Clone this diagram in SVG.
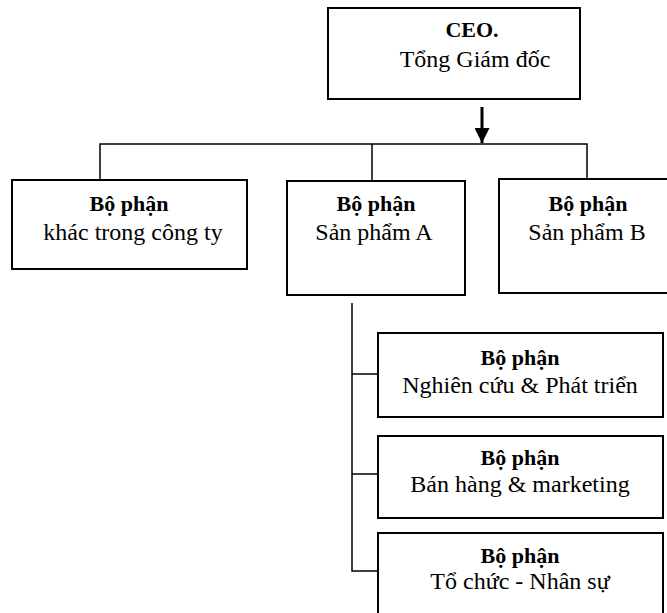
<svg xmlns="http://www.w3.org/2000/svg" width="667" height="613" viewBox="0 0 667 613">
<defs>
<style>
.box{fill:#fff;stroke:#000;stroke-width:2}
.ln{fill:none;stroke:#000;stroke-width:1.5}
.b{font-family:"Liberation Serif","Times New Roman",serif;font-weight:bold;font-size:22px;text-anchor:middle;fill:#000}
.r{font-family:"Liberation Serif","Times New Roman",serif;font-size:24px;text-anchor:middle;fill:#000}
</style>
<marker id="ah" viewBox="0 0 10 10" refX="10" refY="5" markerWidth="5" markerHeight="5" orient="auto" markerUnits="strokeWidth">
<path d="M0,0 L10,5 L0,10 z" fill="#000"/>
</marker>
</defs>
<rect width="667" height="613" fill="#fff"/>
<g id="connectors">
<line class="ln" x1="482" y1="107" x2="482" y2="143" style="stroke-width:3" marker-end="url(#ah)"/>
<polyline class="ln" points="100,180 100,144 587,144 587,179"/>
<line class="ln" x1="372" y1="144" x2="372" y2="181"/>
<polyline class="ln" points="352,303 352,571 379,571"/>
<line class="ln" x1="352" y1="374" x2="379" y2="374"/>
<line class="ln" x1="352" y1="474" x2="379" y2="474"/>
</g>
<g id="ceo">
<rect class="box" x="328" y="8" width="252" height="91"/>
<text class="b" x="472" y="37">CEO.</text>
<text class="r" x="475" y="67">Tổng Giám đốc</text>
</g>
<g id="khac">
<rect class="box" x="12" y="180" width="235" height="89"/>
<text class="b" x="129" y="211">Bộ phận</text>
<text class="r" x="133" y="240">khác trong công ty</text>
</g>
<g id="spA">
<rect class="box" x="287" y="181" width="178" height="114"/>
<text class="b" x="376" y="211">Bộ phận</text>
<text class="r" x="374" y="240">Sản phẩm A</text>
</g>
<g id="spB">
<rect class="box" x="499" y="179" width="180" height="114"/>
<text class="b" x="588" y="211">Bộ phận</text>
<text class="r" x="587" y="240">Sản phẩm B</text>
</g>
<g id="nc">
<rect class="box" x="378" y="333" width="285" height="84"/>
<text class="b" x="520" y="365">Bộ phận</text>
<text class="r" x="520" y="393">Nghiên cứu &amp; Phát triển</text>
</g>
<g id="bh">
<rect class="box" x="378" y="436" width="285" height="82"/>
<text class="b" x="520" y="465">Bộ phận</text>
<text class="r" x="520" y="492">Bán hàng &amp; marketing</text>
</g>
<g id="tc">
<rect class="box" x="378" y="533" width="285" height="90"/>
<text class="b" x="520" y="563">Bộ phận</text>
<text class="r" x="520" y="589">Tổ chức - Nhân sự</text>
</g>
</svg>
